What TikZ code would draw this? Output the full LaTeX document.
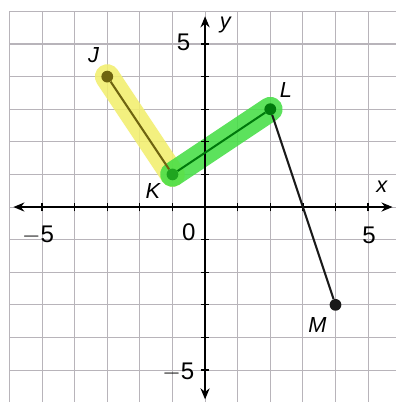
\documentclass[tikz,border=0pt]{standalone}
\usepackage{fontspec}
\setmainfont{Liberation Sans}
\usepackage{tikz}
\usetikzlibrary{arrows.meta}
\definecolor{gridgray}{HTML}{B8B4BA}
\definecolor{hlyellow}{HTML}{F2EE6E}
\definecolor{hlgreen}{HTML}{46DE46}
\definecolor{olivedark}{HTML}{6E6410}
\definecolor{greendark}{HTML}{007A0C}
\definecolor{greenmid}{HTML}{1FA51F}
\tikzset{
  gridline/.style={draw=gridgray, line width=0.9pt},
  axis/.style={{Stealth[length=3.4mm,width=2.8mm]}-{Stealth[length=3.4mm,width=2.8mm]}, line width=1.4pt},
  tick/.style={line width=1.1pt},
  seg/.style={line width=1.8pt},
  dot/.style={circle, fill=black!90, inner sep=0pt, minimum size=3.6mm},
  hilite/.style={line width=7.6mm, line cap=round, opacity=0.88},
  lab/.style={font=\fontsize{19}{22}\selectfont\itshape, inner sep=0pt},
  num/.style={font=\fontsize{21}{24}\selectfont, inner sep=0pt},
}
\begin{document}
\begin{tikzpicture}
    \useasboundingbox[fill=white] (-6.29,-5.98) rectangle (5.86,6.35);
    % grid paper
    \draw[gridline] (-6,-6) grid (5.86,6);
    \draw[gridline] (-6,-5.98) -- (-6,6) -- (5.86,6);
    % points
    \node[dot, fill=olivedark] (J) at (-3,4) {};
    \node[dot, fill=greenmid] (K) at (-1,1) {};
    \node[dot, fill=greendark] (L) at (2,3) {};
    \node[dot] (M) at (4,-3) {};
    % highlighter strokes
    \draw[hilite, hlyellow] (J.center) -- (K.center);
    \draw[hilite, hlgreen] (K.center) -- (L.center);
    % axes
    \coordinate (xl) at (-5.88,0);
    \coordinate (xr) at (5.75,0);
    \coordinate (yb) at (0,-5.9);
    \coordinate (yt) at (0,5.85);
    \draw[axis] (xl) -- (xr);
    \draw[axis] (yb) -- (yt);
    \foreach \k in {-5,...,-1,1,2,...,5} {
      \draw[tick] (\k,-0.13) -- (\k,0.13);
      \draw[tick] (-0.13,\k) -- (0.13,\k);
    }
    \node[lab] (xlab) at (5.42,0.62) {x};
    \node[lab] (ylab) at (0.62,5.58) {y};
    \node[num] (n5y) at (-0.66,5.06) {5};
    \node[num] (nm5x) at (-5.12,-0.86) {$-$5};
    \node[num] (n0) at (-0.5,-0.78) {0};
    \node[num] (n5x) at (5.03,-0.86) {5};
    \node[num] (nm5y) at (-0.82,-5.06) {$-$5};
    % segments
    \draw[seg, olivedark] (J) -- (K);
    \draw[seg, greendark] (K) -- (L);
    \draw[seg, black!90] (L) -- (M);
    \node[dot, fill=olivedark] at (J) {};
    \node[dot, fill=greenmid] at (K) {};
    \node[dot, fill=greendark] at (L) {};
    \node[lab] (Jlab) at (-3.42,4.66) {J};
    \node[lab] (Klab) at (-1.6,0.5) {K};
    \node[lab] (Llab) at (2.48,3.6) {L};
    \node[lab] (Mlab) at (3.45,-3.62) {M};
\end{tikzpicture}
\end{document}
